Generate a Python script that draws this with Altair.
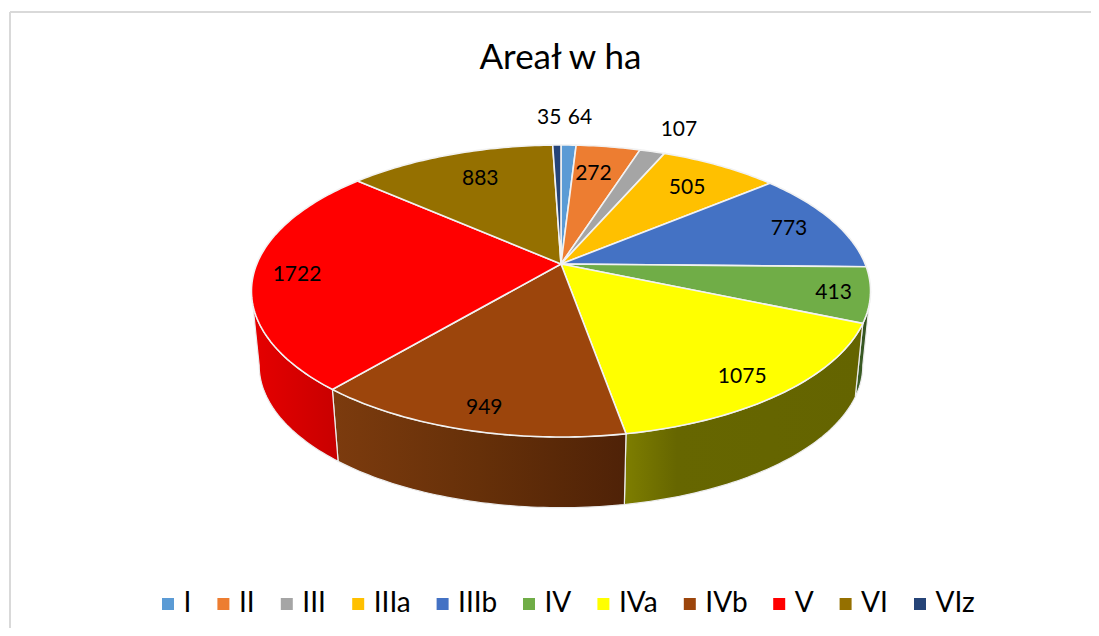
import math
import altair as alt

# ---- data ----
categories = ["I", "II", "III", "IIIa", "IIIb", "IV", "IVa", "IVb", "V", "VI", "VIz"]
values = [64, 272, 107, 505, 773, 413, 1075, 949, 1722, 883, 35]
colors = ["#5B9BD5", "#ED7D31", "#A5A5A5", "#FFC000", "#4472C4", "#70AD47",
          "#FFFF00", "#9C450C", "#FF0000", "#957000", "#264478"]

# label placement, as a fraction of the pie radius and an angle nudge in degrees
label_radius = [1.30, 0.75, 1.27, 0.77, 0.835, 0.885, 0.86, 0.875, 0.86, 0.76, 1.30]
label_nudge = [1.7, -1.3, 1.2, 0, 0, 0, 1.3, -1, 0, 2.0, -1.2]

# wall shading (offset, colour) left to right for the slices whose side is visible
wall_shades = {
    "IV": [(0, "#3f6327"), (1, "#2f4a1d")],
    "IVa": [(0, "#7e7e00"), (0.22, "#666600"), (1, "#646400")],
    "IVb": [(0, "#7c3b0e"), (0.5, "#663009"), (1, "#4f2207")],
    "V": [(0, "#e60000"), (1, "#c80000")],
}

# ---- layout ----
FONT = "Lato"
CX, CY = 561, 264        # page position of the pie's apex
TILT = 0.185             # perspective strength
KX, KY = 304.2, 141.0    # projected radii
BASE_SCALE, BASE_DROP = 0.975, 75.0
PAD_TOP = 68


def project(angle_deg, r=1.0):
    a = math.radians(angle_deg)
    u, v = r * math.sin(a), r * math.cos(a)
    w = 1 + TILT * v
    return KX * u / w, -KY * v / w


def to_base(p):
    return p[0] * BASE_SCALE, p[1] * BASE_SCALE + BASE_DROP


total = sum(values)
edges = [0.0]
for val in values:
    edges.append(edges[-1] + val / total * 360)


def arc_points(a0, a1):
    n = max(2, int(abs(a1 - a0)) + 2)
    return [project(a0 + (a1 - a0) * i / (n - 1)) for i in range(n)]


top_features = []
for name, a0, a1 in zip(categories, edges[:-1], edges[1:]):
    ring = [(0.0, 0.0)] + arc_points(a0, a1) + [(0.0, 0.0)]
    top_features.append({
        "type": "Feature",
        "properties": {"name": name},
        "geometry": {"type": "Polygon", "coordinates": [[list(p) for p in ring]]},
    })

# side walls only between the two silhouette points of the disc
sil = math.degrees(math.asin(TILT))
wall_lo, wall_hi = 90 + sil, 270 - sil
wall_features = {}
for name, a0, a1 in zip(categories, edges[:-1], edges[1:]):
    lo, hi = max(a0, wall_lo), min(a1, wall_hi)
    if name in wall_shades and lo < hi:
        pts = arc_points(lo, hi)
        ring = pts + [to_base(p) for p in reversed(pts)] + [pts[0]]
        wall_features[name] = {
            "type": "Feature",
            "properties": {"name": name},
            "geometry": {"type": "Polygon", "coordinates": [[list(p) for p in ring]]},
        }

label_rows = []
for name, val, a0, a1, r, nudge in zip(categories, values, edges[:-1], edges[1:], label_radius, label_nudge):
    x, y = project((a0 + a1) / 2 + nudge, r)
    label_rows.append({"lon": x, "lat": y, "label": str(val)})

proj = alt.Projection(type="identity", scale=1, translate=[CX - 8, CY - 8 - PAD_TOP])

walls = []
for name, shades in wall_shades.items():
    if name not in wall_features:
        continue
    stops = [{"offset": off, "color": c} for off, c in shades]
    gradient = {"gradient": "linear", "x1": 0, "y1": 0, "x2": 1, "y2": 0, "stops": stops}
    walls.append(
        alt.Chart(alt.Data(values=[wall_features[name]]))
        .mark_geoshape(fill=gradient, stroke="#ececec", strokeWidth=1.2)
        .project(**proj.to_dict())
    )

top = (
    alt.Chart(alt.Data(values=top_features))
    .mark_geoshape(stroke="#f2f2f2", strokeWidth=1.6)
    .encode(
        color=alt.Color(
            "properties.name:N",
            scale=alt.Scale(domain=categories, range=colors),
            sort=categories,
            legend=alt.Legend(
                title=None, orient="none", direction="horizontal", columns=11,
                legendX=146, legendY=602 - 8 - PAD_TOP - 12,
                symbolType="square", symbolSize=144, symbolStrokeWidth=0,
                labelFont=FONT, labelFontSize=28, labelColor="#000000",
                labelOffset=1.5, columnPadding=17.4, symbolOpacity=1, labelLimit=200,
            ),
        )
    )
    .project(**proj.to_dict())
)

labels = (
    alt.Chart(alt.Data(values=label_rows))
    .mark_text(font=FONT, fontSize=21, color="#000000", align="center", baseline="middle", dy=2)
    .encode(longitude="lon:Q", latitude="lat:Q", text="label:N")
    .project(**proj.to_dict())
)

frame_top = alt.Chart(alt.Data(values=[{"a": 0}])).mark_rule(color="#d9d9d9", strokeWidth=2).encode(
    x=alt.value(2), x2=alt.value(1083), y=alt.value(12 - 8 - PAD_TOP)
)
frame_left = alt.Chart(alt.Data(values=[{"a": 0}])).mark_rule(color="#d9d9d9", strokeWidth=2).encode(
    x=alt.value(2), y=alt.value(12 - 8 - PAD_TOP), y2=alt.value(620 - PAD_TOP)
)

chart = (
    alt.layer(frame_top, frame_left, *walls, top, labels)
    .properties(
        width=1083, height=620 - PAD_TOP,
        padding={"left": 0, "top": PAD_TOP, "right": 0, "bottom": 0},
        autosize=alt.AutoSizeParams(type="none"),
        title=alt.TitleParams("Areał w ha", font=FONT, fontSize=35, fontWeight="normal",
                              color="#000000", anchor="middle", offset=-65, dx=11),
    )
    .configure_view(stroke=None)
)

chart.save("out.html", embed_options={"renderer": "svg", "actions": False})
